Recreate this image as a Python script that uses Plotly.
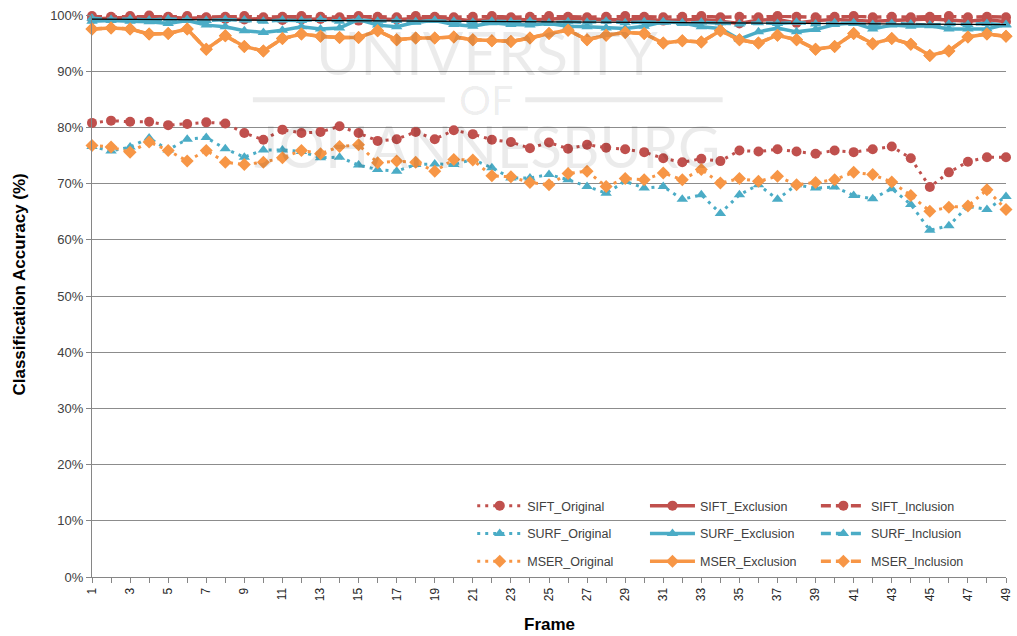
import numpy as np
import plotly.graph_objects as go

# Classification accuracy (%) per frame for three feature detectors
frames = list(range(1, 50))

sift_original = [80.8, 81.2, 81.0, 81.0, 80.4, 80.6, 80.9, 80.7, 79.0, 77.8,
                 79.6, 79.0, 79.2, 80.2, 79.0, 77.6, 77.9, 79.2, 77.9, 79.5,
                 78.8, 77.8, 77.4, 76.3, 77.3, 76.2, 76.9, 76.4, 76.1, 75.6,
                 74.5, 73.8, 74.4, 74.0, 75.9, 75.7, 76.1, 75.7, 75.3, 75.9,
                 75.6, 76.1, 76.6, 74.5, 69.4, 72.0, 73.9, 74.7, 74.7]
sift_exclusion = [99.3, 99.5, 99.6, 99.5, 99.6, 99.4, 99.5, 99.3, 99.2, 99.4,
                  99.1, 99.2, 99.3, 99.4, 99.0, 99.3, 99.2, 99.4, 99.5, 99.3,
                  99.0, 99.2, 99.3, 99.1, 99.2, 99.4, 99.3, 99.2, 99.1, 99.3,
                  99.0, 99.1, 99.2, 98.9, 98.5, 99.1, 99.2, 98.6, 99.0, 99.2,
                  99.1, 98.9, 99.0, 99.1, 99.3, 99.1, 98.9, 99.2, 98.8]
sift_inclusion = [99.8, 99.7, 99.8, 99.9, 99.7, 99.8, 99.6, 99.7, 99.8, 99.6,
                  99.7, 99.8, 99.7, 99.6, 99.8, 99.7, 99.6, 99.8, 99.7, 99.6,
                  99.7, 99.8, 99.6, 99.7, 99.8, 99.7, 99.6, 99.7, 99.8, 99.7,
                  99.6, 99.7, 99.8, 99.6, 99.7, 99.6, 99.8, 99.7, 99.6, 99.7,
                  99.8, 99.6, 99.7, 99.6, 99.7, 99.8, 99.6, 99.7, 99.6]

surf_original = [76.6, 75.8, 76.5, 78.1, 76.0, 77.9, 78.2, 76.2, 74.7, 76.0,
                 76.0, 75.7, 74.6, 74.7, 73.3, 72.5, 72.2, 73.4, 73.5, 73.4,
                 74.3, 72.8, 71.0, 71.0, 71.6, 70.7, 69.5, 68.3, 70.4, 69.2,
                 69.5, 67.2, 68.0, 64.7, 68.0, 69.8, 67.2, 69.8, 69.2, 69.4,
                 67.9, 67.3, 69.1, 66.3, 61.7, 62.5, 66.0, 65.4, 67.7]
surf_exclusion = [98.9, 99.0, 98.9, 98.8, 98.5, 99.0, 98.2, 97.9, 97.2, 96.9,
                  97.3, 97.9, 97.5, 97.7, 99.2, 98.2, 97.9, 98.7, 99.0, 98.3,
                  98.0, 98.6, 98.3, 98.2, 98.5, 98.0, 97.9, 97.7, 97.6, 98.0,
                  98.8, 98.6, 97.9, 97.6, 95.7, 97.0, 97.7, 97.0, 97.4, 98.3,
                  98.6, 97.5, 98.2, 98.0, 98.1, 97.5, 97.5, 97.5, 98.3]
surf_inclusion = [99.4, 99.2, 99.3, 99.1, 99.3, 99.2, 99.0, 99.2, 99.1, 98.9,
                  99.1, 99.0, 99.2, 98.9, 99.1, 98.9, 99.0, 98.8, 99.0, 98.9,
                  98.7, 98.9, 98.8, 98.9, 98.6, 98.8, 98.7, 98.9, 98.6, 98.8,
                  98.7, 98.5, 98.7, 98.6, 98.4, 98.6, 98.5, 98.7, 98.4, 98.6,
                  98.5, 98.3, 98.5, 98.4, 98.2, 98.4, 98.3, 98.5, 98.2]

mser_original = [76.8, 76.5, 75.6, 77.4, 75.9, 74.0, 75.9, 73.8, 73.4, 73.8,
                 74.6, 75.9, 75.3, 76.6, 76.9, 73.7, 74.0, 73.8, 72.2, 74.3,
                 74.2, 71.4, 71.2, 70.2, 69.8, 71.8, 72.2, 69.5, 70.9, 70.7,
                 71.9, 70.7, 72.5, 70.1, 70.9, 70.4, 71.3, 69.8, 70.2, 70.7,
                 72.0, 71.6, 70.3, 67.9, 65.1, 65.8, 66.0, 68.9, 65.4]
mser_exclusion = [97.5, 97.7, 97.5, 96.6, 96.7, 97.5, 93.9, 96.3, 94.4, 93.6,
                  95.8, 96.6, 96.2, 96.0, 96.0, 97.2, 95.6, 95.9, 95.9, 96.1,
                  95.6, 95.4, 95.3, 95.9, 96.7, 97.3, 95.6, 96.4, 96.9, 96.7,
                  95.0, 95.4, 95.2, 97.2, 95.6, 95.0, 96.4, 95.6, 93.9, 94.4,
                  96.7, 94.9, 95.8, 94.8, 92.8, 93.6, 96.1, 96.6, 96.2]
mser_inclusion = [97.5, 97.7, 97.5, 96.6, 96.7, 97.5, 93.9, 96.3, 94.4, 93.6,
                  95.8, 96.6, 96.2, 96.0, 96.0, 97.2, 95.6, 95.9, 95.9, 96.1,
                  95.6, 95.4, 95.3, 95.9, 96.7, 97.3, 95.6, 96.4, 96.9, 96.7,
                  95.0, 95.4, 95.2, 97.2, 95.6, 95.0, 96.4, 95.6, 93.9, 94.4,
                  96.7, 94.9, 95.8, 94.8, 92.8, 93.6, 96.1, 96.6, 96.2]

y_ticks = list(range(0, 101, 10))
y_tick_labels = [f"{v}%" for v in y_ticks]

RED = "#C0504D"
BLUE = "#4BACC6"
ORANGE = "#F79646"

DOT = "3px,5px"
DASH = "10px,5px"

series = [
    ("SIFT_Original", sift_original, RED, "circle", DOT, 3, "legend"),
    ("SIFT_Exclusion", sift_exclusion, RED, "circle", "solid", 3.5, "legend2"),
    ("SIFT_Inclusion", sift_inclusion, RED, "circle", DASH, 3.5, "legend3"),
    ("SURF_Original", surf_original, BLUE, "triangle-up", DOT, 3, "legend"),
    ("SURF_Exclusion", surf_exclusion, BLUE, "triangle-up", "solid", 3.5, "legend2"),
    ("SURF_Inclusion", surf_inclusion, BLUE, "triangle-up", DASH, 3.5, "legend3"),
    ("MSER_Original", mser_original, ORANGE, "diamond", DOT, 3, "legend"),
    ("MSER_Exclusion", mser_exclusion, ORANGE, "diamond", "solid", 3.5, "legend2"),
    ("MSER_Inclusion", mser_inclusion, ORANGE, "diamond", DASH, 3.5, "legend3"),
]

fig = go.Figure()
for name, values, color, symbol, dash, width, leg in series:
    fig.add_trace(go.Scatter(
        x=frames, y=values, name=name, mode="lines+markers",
        line=dict(color=color, width=width, dash=dash),
        marker=dict(symbol=symbol, size=10, color=color),
        legend=leg, legendgroup=name, cliponaxis=False,
    ))

# linear trend of SURF_Inclusion
coef = np.polyfit(frames, surf_inclusion, 1)
trend = np.polyval(coef, frames)
fig.add_trace(go.Scatter(
    x=frames, y=trend, mode="lines", showlegend=False,
    line=dict(color="black", width=1.2), hoverinfo="skip", cliponaxis=False,
))

legend_font = dict(family="Liberation Sans, Arial, sans-serif", size=12.5, color="#404040")
legend_common = dict(
    xanchor="left", yanchor="top", y=0.153, bgcolor="rgba(0,0,0,0)",
    font=legend_font, itemwidth=45, tracegroupgap=8.5, orientation="v",
)
fig.update_layout(
    legend=dict(x=0.416, **legend_common),
    legend2=dict(x=0.605, **legend_common),
    legend3=dict(x=0.792, **legend_common),
)

# faint watermark
wm_color = "rgba(0,0,0,0.08)"
wm_font = "Lato, Open Sans, sans-serif"
wm_x = 0.432
for text, y, size in [("UNIVERSITY", 0.935, 60), ("OF", 0.848, 40), ("JOHANNESBURG", 0.768, 58)]:
    fig.add_annotation(text=text, xref="paper", yref="paper", x=wm_x, y=y,
                       xanchor="center", yanchor="middle", showarrow=False,
                       font=dict(family=wm_font, size=size, color=wm_color))
for x0, x1 in [(0.176, 0.386), (0.474, 0.69)]:
    fig.add_shape(type="line", xref="paper", yref="paper", x0=x0, x1=x1, y0=0.849, y1=0.849,
                  line=dict(color=wm_color, width=5))

# axis titles
title_font = dict(family="Liberation Sans, Arial, sans-serif", size=17, color="black", weight="bold")
fig.add_annotation(text="Frame", xref="paper", yref="paper", x=0.5, y=-0.085,
                   xanchor="center", yanchor="middle", showarrow=False, font=title_font)
fig.add_annotation(text="Classification Accuracy (%)", xref="paper", yref="paper",
                   x=-0.079, y=0.52, xanchor="center", yanchor="middle",
                   textangle=-90, showarrow=False, font=title_font)

axis_font = dict(family="Liberation Sans, Arial, sans-serif", size=13, color="#404040")

fig.update_xaxes(
    range=[1, 49], tickmode="linear", tick0=1, dtick=2, tickangle=-90,
    ticks="outside", ticklen=5, tickcolor="#868686",
    minor=dict(dtick=1, tick0=1, ticks="outside", ticklen=5, tickcolor="#868686", showgrid=False),
    showgrid=False, zeroline=False, automargin=False,
    showline=True, linecolor="#868686", linewidth=1,
    tickfont=dict(family="Liberation Sans, Arial, sans-serif", size=12, color="#262626"),
)
fig.update_yaxes(
    range=[0, 100], tickmode="array", tickvals=y_ticks, ticktext=y_tick_labels,
    ticks="outside", ticklen=5, tickcolor="#868686",
    showgrid=True, gridcolor="#8c8c8c", gridwidth=1, zeroline=False, automargin=False,
    showline=True, linecolor="#868686", linewidth=1,
    tickfont=axis_font,
)

fig.update_layout(
    width=1017, height=636,
    margin=dict(l=92, r=11, t=15, b=59),
    paper_bgcolor="white", plot_bgcolor="white",
    hovermode=False,
)

fig.write_html("out.html")
